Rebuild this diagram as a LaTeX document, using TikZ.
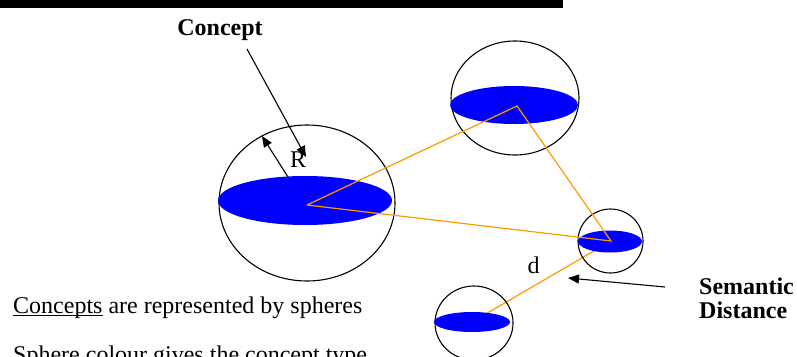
\documentclass[tikz,border=0pt]{standalone}
\usepackage{fontspec}
\setmainfont{Liberation Serif}
\usetikzlibrary{shapes.geometric,arrows.meta}
\pgfdeclarelayer{bg}
\pgfsetlayers{bg,main}
\definecolor{lineorange}{RGB}{255,153,0}
\definecolor{discblue}{RGB}{0,0,255}
\newcommand\myul[1]{\setbox0\hbox{#1}\rlap{\rule[-2.5pt]{\wd0}{1pt}}\box0\relax}
\begin{document}
\begin{tikzpicture}[x=1pt,y=-1pt,
  sphere/.style={ellipse,draw=black,line width=1.1pt,inner sep=0pt},
  disc/.style={ellipse,fill=discblue,inner sep=0pt},
  link/.style={draw=lineorange,line width=1.2pt},
  pointer/.style={draw=black,line width=1.1pt,-{Triangle[length=11pt,width=9pt]}},
  txt/.style={font=\fontsize{24}{28}\selectfont,inner sep=0pt},
  btxt/.style={font=\fontsize{24}{28}\selectfont\bfseries,inner sep=0pt}]
\useasboundingbox (0,0) rectangle (797,356);
\fill[black] (0,0) rectangle (563,8);
% spheres
\node[sphere,minimum width=176pt,minimum height=156pt] (s1) at (307,203) {};
\node[sphere,minimum width=128pt,minimum height=114pt] (s2) at (515,98) {};
\node[sphere,minimum width=65pt,minimum height=64pt] (s3) at (610.5,241) {};
\node[sphere,minimum width=78pt,minimum height=74pt] (s4) at (474,323) {};
% discs
\node[disc,minimum width=174pt,minimum height=49pt] (d1) at (305,200.5) {};
\node[disc,minimum width=128pt,minimum height=38pt] (d2) at (514,105) {};
\node[disc,minimum width=64pt,minimum height=22pt] (d3) at (610,241.5) {};
\node[disc,minimum width=76pt,minimum height=20pt] (d4) at (472,322) {};
% hubs
\coordinate (p1) at (307,205);
\coordinate (p2) at (517,106);
\coordinate (p3) at (611,241);
\coordinate (p4) at (472,322);
\draw[link] (p1) -- (p2) -- (p3) -- (p1);
\begin{pgfonlayer}{bg}
\draw[link] (p3) -- (p4);
\end{pgfonlayer}
% pointers
\coordinate (cA) at (247,49);
\coordinate (cB) at (306,157);
\draw[pointer] (cA) -- (cB);
\coordinate (rA) at (288,177);
\coordinate (rB) at (262,136);
\draw[pointer] (rA) -- (rB);
\coordinate (sA) at (665,287);
\coordinate (sB) at (568,278);
\draw[pointer] (sA) -- (sB);
% labels
\node[btxt,anchor=base] (lblconcept) at (220,35) {Concept};
\node[txt,anchor=base] (lblR) at (298,167) {R};
\node[txt,anchor=base] (lbld) at (533.5,273) {d};
\node[btxt,anchor=base west] (lblsem) at (699,294) {Semantic};
\node[btxt,anchor=base west] (lbldist) at (699,318) {Distance};
\node[txt,anchor=base west] (note1) at (13,313) {\myul{Concepts} are represented by spheres};
\node[txt,anchor=base west] (note2) at (13,362) {Sphere colour gives the concept type};
\end{tikzpicture}
\end{document}
